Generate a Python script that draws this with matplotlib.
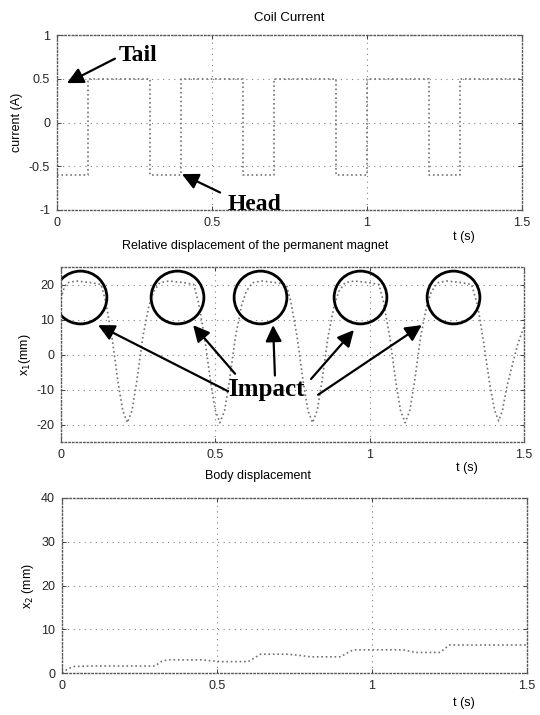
import matplotlib
matplotlib.use("Agg")
import matplotlib.pyplot as plt

plt.rcParams['font.family'] = ['Liberation Sans', 'DejaVu Sans']
plt.rcParams['axes.unicode_minus'] = False

# coil current: switching instants (s) and level held after each (A)
switch_t = [0.0, 0.1, 0.3, 0.4, 0.6, 0.7, 0.9, 1.0, 1.2, 1.3, 1.5]
current_a = [-0.6, 0.5, -0.6, 0.5, -0.6, 0.5, -0.6, 0.5, -0.6, 0.5, 0.5]

# relative displacement of the permanent magnet x1 (mm)
t1 = [0.0, 0.01, 0.02, 0.05, 0.10, 0.13, 0.145, 0.165, 0.185, 0.20, 0.215,
      0.23, 0.245, 0.265, 0.285, 0.30, 0.32, 0.35, 0.40, 0.43, 0.445, 0.465,
      0.485, 0.50, 0.515, 0.53, 0.545, 0.565, 0.585, 0.60, 0.62, 0.65, 0.70,
      0.73, 0.745, 0.765, 0.785, 0.80, 0.815, 0.83, 0.845, 0.865, 0.885, 0.90,
      0.92, 0.95, 1.00, 1.03, 1.045, 1.065, 1.085, 1.10, 1.115, 1.13, 1.145,
      1.165, 1.185, 1.20, 1.22, 1.25, 1.30, 1.33, 1.35, 1.37, 1.39, 1.405,
      1.418, 1.43, 1.445, 1.465, 1.48, 1.50]
x1 = [16, 19, 20.5, 21, 20.5, 20, 15, 5, -8, -16, -19.5,
      -16, -8, 5, 14, 18, 20.5, 21, 20.5, 20, 15, 5,
      -8, -16, -19.5, -16, -8, 5, 14, 18, 20.5, 21, 20.5,
      20, 15, 5, -8, -16, -19.5, -16, -8, 5, 14, 18,
      20.5, 21, 20.5, 20, 15, 5, -8, -16, -19.5, -16, -8,
      5, 14, 18, 20.5, 21, 20.5, 20, 14, 3, -9, -16,
      -19, -16, -9, -2, 3, 8]

# body displacement x2 (mm)
t2 = [0.0, 0.02, 0.04, 0.10, 0.20, 0.30, 0.32, 0.34, 0.45, 0.48, 0.51, 0.60,
      0.62, 0.64, 0.73, 0.77, 0.80, 0.90, 0.92, 0.94, 1.10, 1.14, 1.22, 1.235,
      1.25, 1.40, 1.50]
x2 = [0.0, 1.0, 1.5, 1.6, 1.6, 1.6, 2.6, 3.0, 3.0, 2.8, 2.6, 2.6,
      3.4, 4.3, 4.3, 4.0, 3.7, 3.7, 4.6, 5.3, 5.3, 4.7, 4.7, 5.6,
      6.4, 6.4, 6.4]

# impact circles (centre time, centre value)
circ_t = [0.062, 0.376, 0.645, 0.969, 1.27]
circ_v = [16.4, 16.4, 16.4, 16.4, 16.4]

W, H = 540, 715
fig = plt.figure(figsize=(W / 100, H / 100), dpi=100)


def box(l, r, t, b):
    return [l / W, 1 - b / H, (r - l) / W, (b - t) / H]


def style(ax, yticks, ylabels, ylim):
    ax.set_xlim(0, 1.5)
    ax.set_ylim(*ylim)
    ax.set_xticks([0, 0.5, 1, 1.5])
    ax.set_xticklabels(['0', '0.5', '1', '1.5'])
    ax.set_yticks(yticks)
    ax.set_yticklabels(ylabels)
    ax.tick_params(direction='in', length=3, width=0.6, top=True, right=True,
                   labelsize=9, colors='0.15', pad=5)
    ax.grid(True, color='0.5', linestyle=(0, (1, 4)), linewidth=0.8)
    for s in ax.spines.values():
        s.set_linestyle(':')
        s.set_color('0.35')
        s.set_linewidth(1.0)


line_kw = dict(color='0.45', linestyle=':', linewidth=1.2)
serif = ['Liberation Serif', 'DejaVu Serif']
arrow = dict(arrowstyle='-|>,head_length=0.7,head_width=0.35', color='black',
             lw=1.6, mutation_scale=14, shrinkA=0, shrinkB=0)

# --- coil current
ax1 = fig.add_axes(box(57, 522, 35, 210))
ax1.step(switch_t, current_a, where='post', **line_kw)
style(ax1, [-1, -0.5, 0, 0.5, 1], ['-1', '-0.5', '0', '0.5', '1'], (-1, 1))
ax1.set_ylabel('current (A)', fontsize=9, labelpad=4)
ax1.set_title('Coil Current', fontsize=9.5, pad=10)
ax1.annotate('', xy=(0.032, 0.45), xytext=(0.187, 0.73), arrowprops=arrow)
ax1.text(0.2, 0.77, 'Tail', family=serif, fontweight='bold', fontsize=17,
         ha='left', va='center')
ax1.annotate('', xy=(0.403, -0.59), xytext=(0.526, -0.80), arrowprops=arrow)
ax1.text(0.55, -0.94, 'Head', family=serif, fontweight='bold', fontsize=17,
         ha='left', va='center')
fig.text(464 / W, 1 - 237 / H, 't (s)', fontsize=9, ha='center', va='center')

# --- relative displacement
ax2 = fig.add_axes(box(61, 524, 267, 442))
ax2.plot(t1, x1, **line_kw)
ax2.plot(circ_t, circ_v, 'o', ms=38, mfc='none', mec='black', mew=2.0)
style(ax2, [-20, -10, 0, 10, 20], ['-20', '-10', '0', '10', '20'], (-25, 25))
ax2.set_ylabel('x$_1$(mm)', fontsize=9, labelpad=2)
fig.text(255 / W, 1 - 246 / H, 'Relative displacement of the permanent magnet',
         fontsize=9, ha='center', va='center')
tails = [(0.541, -10.5), (0.564, -5.5), (0.693, -6.0), (0.810, -7.0), (0.833, -11.5)]
tips = [(0.120, 8.4), (0.428, 8.4), (0.687, 8.4), (0.949, 7.0), (1.169, 8.4)]
for (xa, ya), (xb, yb) in zip(tails, tips):
    ax2.annotate('', xy=(xb, yb), xytext=(xa, ya), arrowprops=arrow)
ax2.text(0.664, -10, 'Impact', family=serif, fontweight='bold', fontsize=18,
         ha='center', va='center')
fig.text(467 / W, 1 - 468 / H, 't (s)', fontsize=9, ha='center', va='center')

# --- body displacement
ax3 = fig.add_axes(box(62, 527, 498, 673))
ax3.plot(t2, x2, **line_kw)
style(ax3, [0, 10, 20, 30, 40], ['0', '10', '20', '30', '40'], (0, 40))
ax3.set_ylabel('x$_2$ (mm)', fontsize=9, labelpad=4)
fig.text(258 / W, 1 - 476 / H, 'Body displacement', fontsize=9,
         ha='center', va='center')
fig.text(464 / W, 1 - 703 / H, 't (s)', fontsize=9, ha='center', va='center')

fig.savefig('out.png', dpi=100)
